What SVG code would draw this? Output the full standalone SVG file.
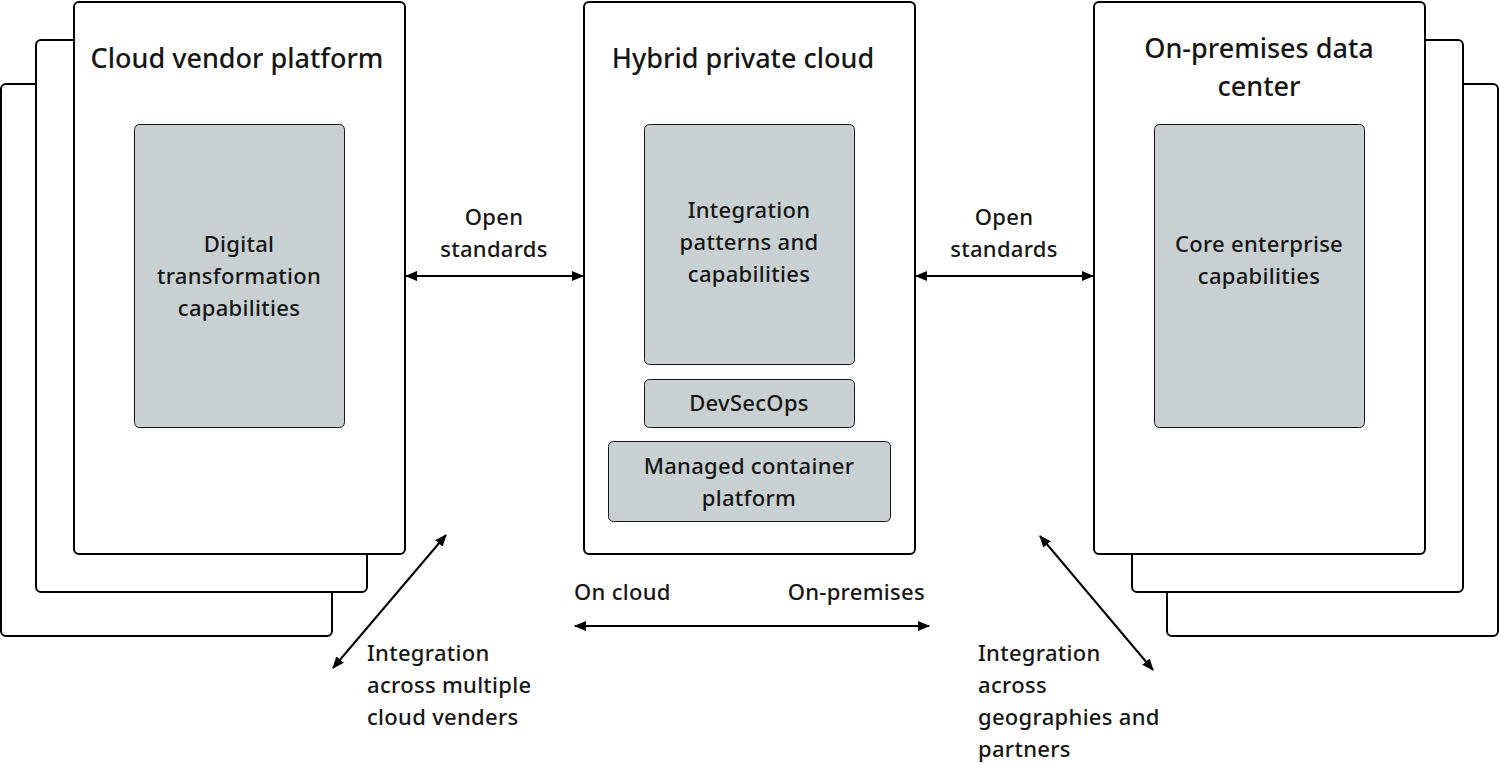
<svg xmlns="http://www.w3.org/2000/svg" width="1499" height="763" viewBox="0 0 1499 763">
<style>
.frame{fill:#fff;stroke:#000;stroke-width:2}
.box{fill:#c8d0d1;stroke:#161616;stroke-width:1}
text{font-family:"Noto Sans","Liberation Sans",sans-serif;fill:#161616;font-weight:500}
.t{font-size:27px;text-anchor:middle}
.b{font-size:22px;text-anchor:middle;letter-spacing:0.3px}
.l{font-size:22px;letter-spacing:0.3px}
.c{stroke:#000;stroke-width:2;fill:none;marker-start:url(#ah);marker-end:url(#ah)}
</style>
<defs>
<marker id="ah" viewBox="0 0 12 10" refX="11" refY="5" markerWidth="12" markerHeight="10" markerUnits="userSpaceOnUse" orient="auto-start-reverse">
<path d="M0,0 L12,5 L0,10 Z" fill="#000"/>
</marker>
</defs>
<rect width="1499" height="763" fill="#fff"/>
<g id="cloud-vendor">
<rect class="frame" x="1" y="84" width="331" height="552" rx="5"/>
<rect class="frame" x="36" y="40" width="331" height="552" rx="5"/>
<rect class="frame" x="74" y="2" width="331" height="552" rx="5"/>
<text class="t" x="237" y="68">Cloud vendor platform</text>
</g>
<g id="digital">
<rect class="box" x="134.5" y="124.5" width="210" height="303" rx="5"/>
<text class="b" x="239" y="252">Digital</text>
<text class="b" x="239" y="284">transformation</text>
<text class="b" x="239" y="316">capabilities</text>
</g>
<g id="hybrid">
<rect class="frame" x="584" y="2" width="331" height="552" rx="5"/>
<text class="t" x="743" y="68">Hybrid private cloud</text>
</g>
<g id="integration-patterns">
<rect class="box" x="644.5" y="124.5" width="210" height="240" rx="5"/>
<text class="b" x="749" y="218">Integration</text>
<text class="b" x="749" y="250">patterns and</text>
<text class="b" x="749" y="282">capabilities</text>
</g>
<g id="devsecops">
<rect class="box" x="644.5" y="379.5" width="210" height="48" rx="5"/>
<text class="b" x="749" y="411">DevSecOps</text>
</g>
<g id="managed">
<rect class="box" x="608.5" y="441.5" width="282" height="80" rx="5"/>
<text class="b" x="749" y="474">Managed container</text>
<text class="b" x="749" y="506">platform</text>
</g>
<g id="onprem">
<rect class="frame" x="1167" y="84" width="331" height="552" rx="5"/>
<rect class="frame" x="1132" y="40" width="331" height="552" rx="5"/>
<rect class="frame" x="1094" y="2" width="331" height="552" rx="5"/>
<text class="t" x="1259" y="58">On-premises data</text>
<text class="t" x="1259" y="96">center</text>
</g>
<g id="core">
<rect class="box" x="1154.5" y="124.5" width="210" height="303" rx="5"/>
<text class="b" x="1259" y="252">Core enterprise</text>
<text class="b" x="1259" y="284">capabilities</text>
</g>
<g id="connectors">
<line class="c" x1="406" y1="276" x2="583" y2="276"/>
<line class="c" x1="916" y1="276" x2="1093" y2="276"/>
<line class="c" x1="575" y1="626" x2="929" y2="626"/>
<line class="c" x1="333" y1="668" x2="446" y2="535"/>
<line class="c" x1="1040" y1="536" x2="1153" y2="670"/>
</g>
<g id="labels">
<text class="b" x="494" y="225">Open</text>
<text class="b" x="494" y="257">standards</text>
<text class="b" x="1004" y="225">Open</text>
<text class="b" x="1004" y="257">standards</text>
<text class="l" x="574" y="600">On cloud</text>
<text class="l" x="925" y="600" text-anchor="end">On-premises</text>
<text class="l" x="367" y="661">Integration</text>
<text class="l" x="367" y="693">across multiple</text>
<text class="l" x="367" y="725">cloud venders</text>
<text class="l" x="978" y="661">Integration</text>
<text class="l" x="978" y="693">across</text>
<text class="l" x="978" y="725">geographies and</text>
<text class="l" x="978" y="757">partners</text>
</g>
</svg>
